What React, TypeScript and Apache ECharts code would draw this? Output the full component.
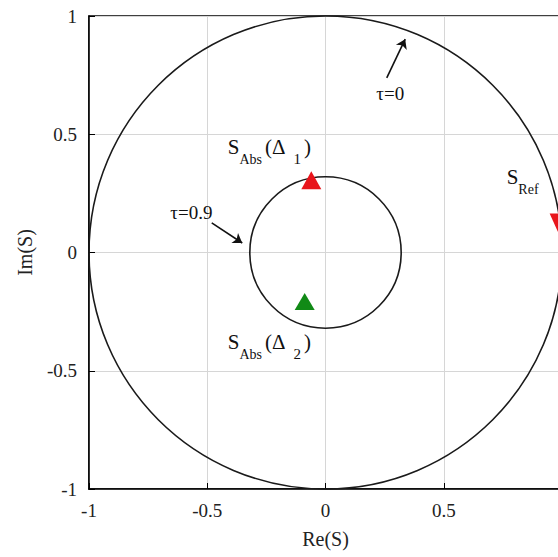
import React, { useEffect, useRef } from "react";
import * as echarts from "echarts";

// circles: [centerRe, centerIm, radius]
const circles: number[][] = [
  [0, 0, 1],
  [0, 0, 0.32],
];

// markers
const absUp: number[][] = [[-0.06, 0.305]];
const absGreen: number[][] = [[-0.088, -0.207]];
const refDown: number[][] = [[0.99, 0.118]];

// arrows: [[fromRe, fromIm], [toRe, toIm]]
const arrows: number[][][] = [
  [[-0.481, 0.125], [-0.352, 0.04]],
  [[0.259, 0.738], [0.337, 0.902]],
];

// annotation labels anchored at the left edge (or right edge for "left") of the main text
const labelPos: number[][] = [
  [-0.413, 0.395],
  [-0.413, -0.43],
  [0.766, 0.268],
  [-0.478, 0.171],
  [0.215, 0.674],
];
const labelText: string[] = [
  "{m|S}{s|Abs}{p|(Δ}{d|1}{m|)}",
  "{m|S}{s|Abs}{p|(Δ}{d|2}{m|)}",
  "{m|S}{s|Ref}",
  "{t|τ=0.9}",
  "{t|τ=0}",
];
const labelSide: string[] = ["right", "right", "right", "left", "right"];

const FONT = "Liberation Serif";

export default function App() {
  const ref = useRef<HTMLDivElement>(null);
  useEffect(() => {
    if (!ref.current) return;
    const chart = echarts.init(ref.current, null, { renderer: "svg" });
    const axisCommon = {
      min: -1,
      max: 1,
      interval: 0.5,
      axisLine: { show: true, onZero: false, lineStyle: { color: "#000", width: 1.5 } },
      axisTick: { show: true, inside: true, length: 6, lineStyle: { color: "#000" } },
      splitLine: { show: true, lineStyle: { color: "#d6d6d6", width: 1 } },
      nameLocation: "middle" as const,
      nameTextStyle: { color: "#222", fontFamily: FONT, fontSize: 20 },
    };
    const labelCommon = {
      color: "#222",
      fontFamily: FONT,
      fontSize: 19,
      margin: 12,
      formatter: (v: number) => String(v),
    };
    chart.setOption({
      animation: false,
      backgroundColor: "#fff",
      grid: {
        left: 89,
        top: 16,
        width: 473,
        height: 473,
        show: true,
        borderColor: "#000",
        borderWidth: 1.5,
        backgroundColor: "transparent",
      },
      xAxis: {
        ...axisCommon,
        type: "value",
        name: "Re(S)",
        nameGap: 40,
        axisLabel: { ...labelCommon, showMaxLabel: false },
      },
      yAxis: {
        ...axisCommon,
        type: "value",
        name: "Im(S)",
        nameGap: 54,
        axisLabel: { ...labelCommon },
      },
      series: [
        {
          type: "custom",
          data: circles,
          clip: false,
          renderItem: (params: any, api: any) => {
            const c = api.coord([api.value(0), api.value(1)]);
            const r = api.value(2);
            const sx = api.size([r, 0])[0];
            const sy = api.size([0, r])[1];
            return {
              type: "ellipse",
              shape: { cx: c[0], cy: c[1], rx: sx, ry: sy },
              style: { fill: "none", stroke: "#1a1a1a", lineWidth: 1.6 },
            };
          },
          z: 2,
        },
        {
          type: "lines",
          coordinateSystem: "cartesian2d",
          data: arrows.map((a) => ({ coords: a })),
          symbol: ["none", "arrow"],
          symbolSize: 9,
          lineStyle: { color: "#111", width: 1.6, opacity: 1 },
          z: 3,
        },
        {
          type: "scatter",
          data: absUp,
          symbol: "triangle",
          symbolSize: [20, 18],
          itemStyle: { color: "#e8141b", opacity: 1 },
          z: 4,
        },
        {
          type: "scatter",
          data: absGreen,
          symbol: "triangle",
          symbolSize: [20, 17],
          itemStyle: { color: "#118a16", opacity: 1 },
          z: 4,
        },
        {
          type: "scatter",
          data: refDown,
          symbol: "triangle",
          symbolRotate: 180,
          symbolSize: [20, 22],
          itemStyle: { color: "#e8141b", opacity: 1 },
          clip: false,
          z: 4,
        },
        {
          type: "scatter",
          data: labelPos.map((p, i) => ({
            value: p,
            label: { formatter: labelText[i], position: labelSide[i] },
          })),
          symbolSize: 0,
          silent: true,
          itemStyle: { opacity: 1 },
          z: 5,
          label: {
            show: true,
            distance: 0,
            fontFamily: FONT,
            color: "#111",
            opacity: 1,
            rich: {
              m: { fontFamily: FONT, fontSize: 21, color: "#111", lineHeight: 22, verticalAlign: "top" },
              p: { fontFamily: FONT, fontSize: 21, color: "#111", lineHeight: 22, verticalAlign: "top", padding: [0, 0, 0, 3] },
              s: { fontFamily: FONT, fontSize: 14, color: "#111", lineHeight: 46 },
              d: { fontFamily: FONT, fontSize: 15, color: "#111", lineHeight: 46, padding: [0, 3, 0, 8] },
              t: { fontFamily: FONT, fontSize: 19, color: "#111" },
            },
          },
        },
      ],
    });
    return () => chart.dispose();
  }, []);
  return (
    <div style={{ position: "fixed", left: 0, top: 0, width: 558, height: 557, overflow: "hidden", background: "#fff" }}>
      <div ref={ref} style={{ width: 590, height: 557 }} />
    </div>
  );
}
